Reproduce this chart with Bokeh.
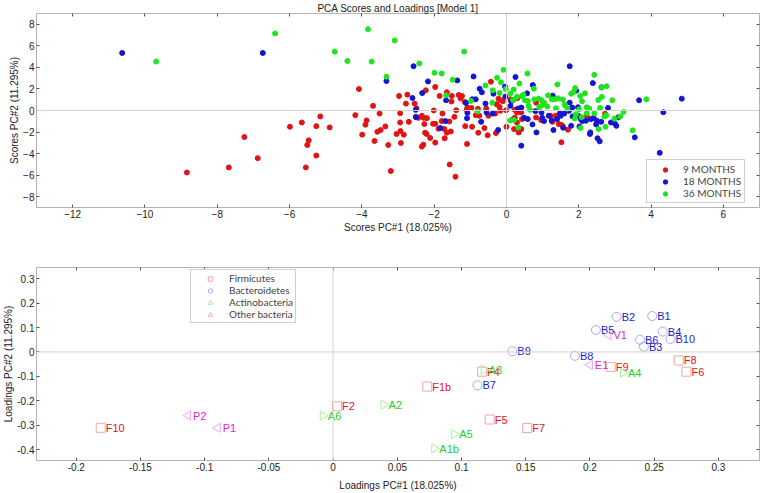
from bokeh.plotting import figure
from bokeh.models import Span, LinearAxis, FixedTicker
from bokeh.layouts import column
from bokeh.embed import file_html
from bokeh.resources import INLINE
from bokeh.core.properties import value

# ---------------- data: PCA scores ----------------
scores_9m = [(-8.84,-5.75),(-7.68,-5.28),(-7.25,-2.46),(-6.88,-4.42),(-4.08,1.99),(-3.69,0.43),(-3.51,-0.28),
 (-4.18,-0.43),(-3.87,-0.92),(-3.90,-1.32),(-3.99,-2.24),(-3.65,-2.83),(-3.57,-1.97),(-3.48,-1.81),(-5.15,-0.55),
 (-5.66,-1.11),(-5.99,-1.51),(-5.26,-1.45),(-4.89,-1.57),(-5.47,-2.77),(-5.51,-3.20),(-5.26,-4.18),(-5.55,-5.28),
 (-2.97,1.35),(-2.74,1.47),(-2.78,0.64),(-2.54,0.64),(-2.49,0.21),(-2.23,1.87),(-1.97,2.18),(-1.65,1.69),(-1.85,1.35),
 (-1.51,1.35),(-1.52,0.83),(-1.32,1.44),(-1.23,1.35),(-1.27,1.13),(-1.15,0.79),(-1.08,0.27),(-0.97,0.24),(-1.39,0.03),
 (-2.01,0.00),(-2.94,-0.25),(-1.77,-0.28),(-0.43,2.67),(-0.22,1.10),(-0.15,0.95),(-0.10,0.86),(-0.27,0.58),(-0.19,0.33),
 (-1.10,0.06),(-0.79,0.15),(-0.56,0.18),(-0.85,-0.43),(-0.75,-0.49),(-0.50,-0.49),(-0.31,-0.28),(-0.17,-0.03),(-0.01,0.03),
 (-1.44,-0.59),(-2.51,-0.59),(-2.44,-0.68),(-2.34,-0.49),(-2.29,-0.68),(-2.20,-0.71),(-2.70,-1.05),(-2.94,-1.11),
 (-2.27,-1.26),(-2.03,-1.23),(-1.97,-1.23),(-1.79,-0.98),(-1.58,-1.02),(-3.35,-1.48),(-2.93,-1.91),(-3.04,-2.18),
 (-2.84,-2.24),(-2.25,-2.06),(-2.21,-2.18),(-1.88,-1.69),(-1.72,-1.72),(-1.65,-2.06),(-1.54,-1.94),(-1.14,-1.45),
 (-0.95,-1.51),(-0.61,-1.63),(-0.78,-2.06),(-0.52,-2.30),(-0.29,-2.09),(0.00,-1.51),(-2.11,-2.55),(-1.71,-2.58),
 (-1.97,-2.98),(-2.92,-3.01),(-3.27,-3.20),(-2.30,-3.17),(-2.34,-3.35),(-1.09,-3.10),(-3.20,-5.62),(-1.57,-5.01),
 (-1.41,-6.14),
 (0.31,1.16),(0.19,0.98),(0.11,1.04),(0.23,0.06),(0.29,-0.19),(0.41,-0.19),(0.23,-0.68),(0.19,-0.80),(0.43,-0.80),
 (0.29,-1.11),(0.21,-1.72),(0.34,-2.03),(0.41,-1.72),(0.82,0.73),(0.82,-0.65),(0.96,-0.89),(1.22,-0.49),(1.36,-0.49),
 (1.27,-1.05),(1.45,-1.26),(1.53,-1.35),(1.56,-1.48),(1.70,-1.78),(1.52,-2.95),(2.22,-0.49),(2.73,-0.31)]

scores_18m = [(-10.63,5.34),(-6.74,5.34),
 (-2.57,4.11),(-3.32,2.73),(-2.17,2.70),(-1.36,2.79),(-0.91,3.16),(-2.33,1.62),(-2.60,1.16),(-1.67,0.95),(-0.74,2.02),
 (-0.68,1.69),(-0.95,1.04),(-0.85,1.04),(-0.36,1.56),(-0.04,2.21),(-0.03,1.29),(-1.12,0.70),(-2.51,0.06),(-0.58,0.64),
 (-1.08,-0.22),(-1.09,-0.71),(-0.38,-0.28),(-2.50,-0.62),(-1.69,-0.98),(-1.83,-1.63),(-0.70,-1.05),(-0.23,-1.81),
 (-0.55,-0.19),
 (1.75,4.11),(0.25,3.10),(0.73,2.36),(2.39,2.54),(1.93,1.84),(0.57,1.59),(1.28,1.38),(2.63,2.15),(2.81,0.24),
 (3.10,-0.62),(0.41,0.27),(0.32,0.18),(0.11,0.43),(0.49,-0.68),(0.59,-0.80),(0.80,-0.06),(0.99,-0.68),(1.04,-0.98),
 (1.17,-0.49),(1.48,-0.25),(1.50,-0.49),(1.60,-0.28),(1.75,0.73),(1.73,-0.03),(1.82,0.27),(1.98,0.30),(1.83,-0.55),
 (1.99,-0.49),(2.06,-0.80),(2.10,-0.98),(2.20,-0.95),(2.34,-0.80),(2.41,-0.68),(2.50,-0.95),(2.48,-1.29),(2.62,-1.05),
 (2.89,-1.11),(3.01,-1.26),(3.04,-1.42),(2.32,-2.03),(2.31,-2.18),(2.52,-2.58),(2.58,-2.86),(1.30,-1.81),(0.83,-2.03),
 (0.41,-3.26),(0.72,-1.29),(1.57,-1.60),(1.79,-1.42),(2.02,-1.48),(1.40,-0.80),(1.25,-0.92),(0.97,-0.19),(0.13,0.86),
 (3.67,0.95),(4.85,1.10),(4.34,-0.16),(3.55,-2.49),(4.24,-3.93)]

scores_36m = [(-9.69,4.54),(-6.40,7.15),(-4.75,5.46),(-4.40,4.60),(-3.83,7.55),(-3.73,4.54),
 (-3.09,6.50),(-1.17,5.46),(-2.41,4.36),(-3.32,3.13),(-1.99,3.50),(-1.79,3.43),(-1.49,2.85),(-0.08,3.77),(-0.26,3.04),
 (-0.15,2.61),(-0.58,2.33),(-0.38,1.87),(-0.02,1.99),(-0.19,1.62),(-0.98,0.89),(-1.67,1.41),(-0.39,0.73),(-0.80,-0.09),
 (0.58,3.43),(0.36,2.51),(0.20,1.96),(0.11,1.59),(0.29,1.26),(0.43,1.35),(0.47,1.47),(0.18,0.98),(0.51,0.95),(0.76,2.02),
 (0.77,1.04),(0.89,1.10),(0.96,0.98),(1.00,0.52),(1.04,0.73),(1.15,1.41),(1.26,1.04),(1.34,1.04),(1.43,1.13),(1.41,2.42),
 (1.56,1.01),(1.61,0.55),(1.79,1.56),(1.86,1.72),(1.90,2.08),(2.04,1.35),(2.09,0.86),(2.17,1.59),(2.43,3.31),(2.63,2.12),
 (2.77,2.24),(2.93,0.95),(2.64,1.26),(2.54,0.98),(2.59,0.24),(2.76,-0.43),(2.71,-0.55),(2.43,-0.28),(2.29,0.18),
 (2.22,0.30),(2.22,-0.25),(2.08,-0.62),(1.89,-0.74),(2.01,0.12),(1.69,0.18),(1.62,0.49),(1.37,0.21),(1.13,0.36),
 (0.91,0.33),(0.65,0.06),(0.21,-0.89),(0.10,-0.92),(0.33,-1.57),(1.92,-0.34),(3.24,-0.13),(3.15,-0.55),(2.99,-0.74),
 (2.55,-1.72),(2.74,-1.51),(2.05,-1.63),(0.59,0.89),(0.61,0.43),(3.87,1.04),(3.49,-1.84)]

score_groups = ["9 MONTHS", "18 MONTHS", "36 MONTHS"]
score_colors = ["#e01414", "#1414d2", "#1ee61e"]
score_xticks = [-12, -10, -8, -6, -4, -2, 0, 2, 4, 6]
score_yticks = [-8, -6, -4, -2, 0, 2, 4, 6, 8]

# ---------------- data: PCA loadings ----------------
firm_names = ["F10", "F2", "F1b", "F4", "F5", "F7", "F9", "F8", "F6"]
firm_x = [-0.181, 0.003, 0.0733, 0.116, 0.1219, 0.1511, 0.2162, 0.2691, 0.2751]
firm_y = [-0.311, -0.223, -0.142, -0.081, -0.277, -0.312, -0.062, -0.035, -0.081]

bact_names = ["B2", "B1", "B5", "B4", "B6", "B10", "B3", "B9", "B8", "B7"]
bact_x = [0.2208, 0.2485, 0.2046, 0.2567, 0.2389, 0.2627, 0.242, 0.1395, 0.1883, 0.1124]
bact_y = [0.144, 0.147, 0.090, 0.0835, 0.050, 0.0527, 0.0215, 0.0024, -0.016, -0.137]

actino_names = ["A6", "A2", "A3", "A4", "A5", "A1b"]
actino_x = [-0.008, 0.0393, 0.1173, 0.2257, 0.0943, 0.0788]
actino_y = [-0.261, -0.216, -0.073, -0.085, -0.337, -0.396]

other_names = ["P2", "P1", "V1", "E1"]
other_x = [-0.113, -0.0899, 0.2144, 0.1999]
other_y = [-0.261, -0.311, 0.069, -0.053]

load_groups = ["Firmicutes", "Bacteroidetes", "Actinobacteria", "Other bacteria"]
load_marker_colors = ["#f2a6a6", "#a9a9ee", "#a6eea6", "#f0a6f0"]
load_text_colors = ["#e01414", "#1e1ec8", "#1ed21e", "#dc1edc"]
load_xticks = [-0.2, -0.15, -0.1, -0.05, 0, 0.05, 0.1, 0.15, 0.2, 0.25, 0.3]
load_xlabels = ["-0.2", "-0.15", "-0.1", "-0.05", "0", "0.05", "0.1", "0.15", "0.2", "0.25", "0.3"]
load_yticks = [-0.4, -0.3, -0.2, -0.1, 0, 0.1, 0.2, 0.3]
load_ylabels = ["-0.4", "-0.3", "-0.2", "-0.1", "0", "0.1", "0.2", "0.3"]

AXIS_FONT = "Liberation Sans"
LEG_FONT = "Lato"
FRAME = "#b4b4b4"
W = 760


def style(p, xticks, yticks, xlabels=None, ylabels=None, xlabel_standoff=0):
    p.xgrid.visible = False
    p.ygrid.visible = False
    p.outline_line_color = FRAME
    for ax, ticks, labels in ((p.xaxis[0], xticks, xlabels), (p.yaxis[0], yticks, ylabels)):
        ax.ticker = FixedTicker(ticks=ticks)
        if labels is not None:
            ax.major_label_overrides = dict(zip(ticks, labels))
        ax.axis_line_color = FRAME
        ax.major_tick_in = 3
        ax.major_tick_out = 0
        ax.major_tick_line_color = "#555555"
        ax.minor_tick_line_color = None
        ax.major_label_text_font = AXIS_FONT
        ax.major_label_text_font_size = "10px"
        ax.major_label_text_color = "#222222"
        ax.major_label_standoff = 2
        ax.axis_label_text_font = AXIS_FONT
        ax.axis_label_text_font_size = "10px"
        ax.axis_label_text_font_style = "normal"
        ax.axis_label_text_color = "#222222"
        ax.axis_label_standoff = 0
    p.xaxis[0].axis_label_standoff = xlabel_standoff
    for loc, ticks in (("above", xticks), ("right", yticks)):
        ax = LinearAxis(ticker=FixedTicker(ticks=ticks), axis_line_color=FRAME,
                        major_tick_in=3, major_tick_out=0, major_tick_line_color="#555555",
                        minor_tick_line_color=None, major_label_text_font_size="0px",
                        major_label_text_color=None, major_label_standoff=0)
        p.add_layout(ax, loc)
    p.add_layout(Span(location=0, dimension="width", line_color="#d2d2d2", line_width=1))
    p.add_layout(Span(location=0, dimension="height", line_color="#d2d2d2", line_width=1))


# ---------------- top: scores ----------------
p1 = figure(width=W, height=235, x_range=(-13, 7), y_range=(-9, 9),
            output_backend="svg", toolbar_location=None,
            title="PCA Scores and Loadings [Model 1]",
            x_axis_label="Scores PC#1 (18.025%)", y_axis_label="Scores PC#2 (11.295%)",
            min_border_left=33, min_border_right=1, min_border_top=0, min_border_bottom=0)
p1.title.align = "center"
p1.title.text_font = AXIS_FONT
p1.title.text_font_size = "10px"
p1.title.text_font_style = "normal"
p1.title.text_color = "#222222"
p1.title.standoff = 0
style(p1, score_xticks, score_yticks, xlabel_standoff=1)

for grp, col, pts in zip(score_groups, score_colors, (scores_9m, scores_18m, scores_36m)):
    xs = [pt[0] for pt in pts]
    ys = [pt[1] for pt in pts]
    p1.scatter(xs, ys, size=5, fill_color=col, line_color=col, legend_label=grp)

lg = p1.legend[0]
lg.location = (610, 4)
lg.label_text_font = LEG_FONT
lg.label_text_font_size = "10px"
lg.label_height = 11
lg.glyph_height = 11
lg.glyph_width = 30
lg.label_standoff = 3
lg.padding = 3
lg.spacing = -1
lg.border_line_color = "#a0a0a0"
lg.background_fill_alpha = 1

# ---------------- bottom: loadings ----------------
p2 = figure(width=W, height=258, x_range=(-0.231, 0.332), y_range=(-0.445, 0.346),
            output_backend="svg", toolbar_location=None,
            x_axis_label="Loadings PC#1 (18.025%)", y_axis_label="Loadings PC#2 (11.295%)",
            min_border_left=33, min_border_right=1, min_border_top=32, min_border_bottom=0)
style(p2, load_xticks, load_yticks, load_xlabels, load_ylabels, xlabel_standoff=6)

groups = [
    (firm_names, firm_x, firm_y, "square", 0.0),
    (bact_names, bact_x, bact_y, "circle", 0.0),
    (actino_names, actino_x, actino_y, "triangle", -1.5708),
    (other_names, other_x, other_y, "triangle", 1.5708),
]
for (names, xs, ys, mk, ang), grp, mcol, tcol in zip(groups, load_groups, load_marker_colors, load_text_colors):
    p2.scatter(xs, ys, marker=mk, size=9, angle=ang, fill_color=None, line_color=mcol,
               line_width=1, legend_label=grp)
    p2.text(xs, ys, text=names, x_offset=5, text_baseline="middle", text_align="left",
            text_color=tcol, text_font=value(AXIS_FONT), text_font_size="11px")

lg2 = p2.legend[0]
lg2.location = (154, 137)
lg2.label_text_font = LEG_FONT
lg2.label_text_font_size = "10px"
lg2.label_height = 11
lg2.glyph_height = 11
lg2.glyph_width = 34
lg2.label_standoff = 2
lg2.padding = 2
lg2.spacing = -2
lg2.border_line_color = "#a0a0a0"
lg2.background_fill_alpha = 1

layout = column(p1, p2, spacing=0)
open("out.html", "w").write(file_html(layout, INLINE))
